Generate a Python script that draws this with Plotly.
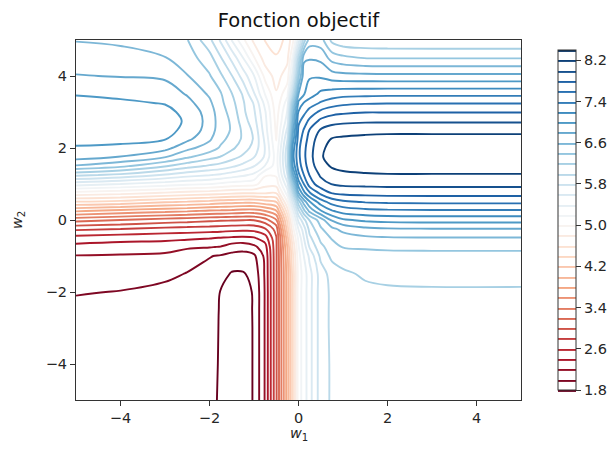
import plotly.graph_objects as go
from plotly.colors import diverging

# grid nodes (w1 columns, w2 rows)
w1_nodes = [-5, -4, -3, -2.5, -2, -1.75, -1.5, -1.25, -1, -0.75, -0.5, -0.25, -0.125,
            0, 0.125, 0.25, 0.5, 0.75, 1, 1.5, 2, 3, 5]
w2_nodes = [-5, -4, -3, -2.5, -2, -1.5, -1, -0.75, -0.5, -0.25, 0, 0.25, 0.5, 0.75, 1,
            1.25, 1.5, 1.75, 2, 2.25, 2.5, 2.75, 3, 3.25, 3.5, 4, 4.5, 5]

# objective values, one column per w1 node (bottom -> top)
col_m5 = [1.88, 1.9, 1.93, 1.96, 2.01, 2.1, 2.19, 2.33, 2.52, 2.84, 3.27, 3.82, 4.38, 4.93, 5.49,
          6.05, 6.58, 6.88, 6.98, 7.06, 7.1, 7.12, 7.1, 7.05, 6.99, 6.81, 6.7, 6.59]
col_m4 = [1.89, 1.91, 1.94, 1.96, 1.995, 2.06, 2.18, 2.3, 2.48, 2.8, 3.2, 3.73, 4.33, 4.87, 5.4,
          5.95, 6.45, 6.79, 6.96, 7.05, 7.09, 7.1, 7.08, 7.03, 6.96, 6.79, 6.68, 6.56]
col_m3 = [1.9, 1.91, 1.92, 1.93, 1.942, 2.046, 2.15, 2.3, 2.45, 2.74, 3.12, 3.66, 4.22, 4.78, 5.3,
          5.78, 6.22, 6.61, 6.87, 7.01, 7.05, 7.06, 7.05, 6.99, 6.93, 6.76, 6.61, 6.47]
col_m2_5 = [1.88, 1.89, 1.9, 1.91, 1.93, 1.99, 2.09, 2.23, 2.44, 2.72, 3.09, 3.62, 4.18, 4.73, 5.24,
            5.68, 6.08, 6.43, 6.65, 6.85, 6.96, 6.98, 6.95, 6.87, 6.78, 6.61, 6.5, 6.41]
col_m2 = [1.84, 1.86, 1.88, 1.9, 1.91, 1.93, 2.01, 2.21, 2.41, 2.7, 3.05, 3.57, 4.13, 4.69, 5.21,
          5.61, 5.97, 6.27, 6.51, 6.63, 6.7, 6.72, 6.7, 6.64, 6.57, 6.42, 6.28, 6.05]
col_m1_75 = [1.78, 1.78, 1.78, 1.78, 1.79, 1.88, 1.98, 2.19, 2.39, 2.69, 3.03, 3.56, 4.09, 4.67, 5.16,
             5.57, 5.92, 6.19, 6.37, 6.46, 6.5, 6.5, 6.48, 6.45, 6.42, 6.24, 6.02, 5.77]
col_m1_5 = [1.72, 1.72, 1.73, 1.74, 1.76, 1.78, 1.94, 2.1, 2.37, 2.67, 3.02, 3.54, 4.07, 4.64, 5.12,
            5.5, 5.84, 6.08, 6.24, 6.33, 6.38, 6.37, 6.33, 6.27, 6.21, 6.01, 5.75, 5.39]
col_m1_25 = [1.74, 1.74, 1.74, 1.75, 1.76, 1.78, 1.93, 2.07, 2.36, 2.66, 3.01, 3.51, 4.05, 4.62, 5.1,
             5.44, 5.74, 5.96, 6.1, 6.17, 6.16, 6.1, 6.05, 6.03, 5.98, 5.72, 5.41, 5.05]
col_m1 = [1.81, 1.81, 1.81, 1.81, 1.81, 1.86, 1.96, 2.15, 2.38, 2.67, 3.01, 3.51, 4.05, 4.62, 5.07,
          5.35, 5.61, 5.81, 5.93, 5.98, 5.95, 5.88, 5.83, 5.78, 5.62, 5.41, 5.02, 4.75]
col_m0_75 = [2.22, 2.22, 2.22, 2.22, 2.22, 2.23, 2.25, 2.32, 2.5, 2.78, 3.12, 3.6, 4.12, 4.62, 4.88,
             5.02, 5.39, 5.57, 5.59, 5.55, 5.49, 5.46, 5.42, 5.33, 5.19, 4.93, 4.7, 4.59]
col_m0_5 = [2.97, 2.97, 2.97, 2.97, 2.97, 2.97, 2.97, 2.97, 2.98, 3.08, 3.38, 3.78, 4.2, 4.61, 4.88,
            5.03, 5.1, 5.1, 5.05, 4.99, 4.96, 4.93, 4.9, 4.86, 4.82, 4.72, 4.62, 4.52]
col_m0_25 = [3.9, 3.9, 3.9, 3.9, 3.9, 3.9, 3.95, 4.01, 4.12, 4.3, 4.45, 4.7, 5.01, 5.3, 5.55,
             5.79, 5.9, 5.95, 5.9, 5.79, 5.65, 5.5, 5.42, 5.3, 5.15, 4.9, 4.75, 4.65]
col_m0_125 = [4.5, 4.5, 4.5, 4.5, 4.5, 4.5, 4.58, 4.65, 4.78, 4.95, 5.1, 5.35, 5.65, 6.01, 6.35,
              6.75, 7.05, 7.15, 7.1, 6.9, 6.75, 6.61, 6.5, 6.3, 5.95, 5.5, 5.25, 4.95]
col_0 = [5.1, 5.1, 5.1, 5.1, 5.1, 5.08, 5.12, 5.18, 5.25, 5.41, 5.65, 5.95, 6.3, 6.79, 7.1,
         7.35, 7.5, 7.55, 7.55, 7.5, 7.45, 7.35, 7.22, 7.05, 6.8, 6.35, 6.05, 5.5]
col_0_125 = [5.3, 5.3, 5.3, 5.3, 5.3, 5.3, 5.41, 5.5, 5.61, 5.72, 5.95, 6.35, 6.7, 7.15, 7.41,
             7.61, 7.72, 7.76, 7.75, 7.7, 7.62, 7.5, 7.35, 7.22, 6.99, 6.95, 6.75, 6.1]
col_0_25 = [5.53, 5.53, 5.53, 5.53, 5.53, 5.53, 5.65, 5.82, 5.95, 6.07, 6.21, 6.65, 6.98, 7.38, 7.7,
            7.81, 7.9, 7.93, 7.92, 7.88, 7.81, 7.65, 7.48, 7.3, 7.1, 6.98, 6.78, 6.5]
col_0_5 = [5.9, 5.9, 5.9, 5.9, 5.9, 5.9, 6.05, 6.15, 6.25, 6.37, 6.5, 6.98, 7.3, 7.65, 7.92,
           8.03, 8.13, 8.18, 8.16, 8.12, 8.02, 7.85, 7.65, 7.42, 7.25, 6.97, 6.75, 6.48]
col_0_75 = [6.03, 6.03, 6.04, 6.04, 6.04, 6.08, 6.25, 6.3, 6.42, 6.55, 6.83, 7.18, 7.48, 7.81, 8.01,
            8.12, 8.22, 8.27, 8.26, 8.21, 8.1, 7.92, 7.73, 7.5, 7.3, 6.9, 6.52, 6.15]
col_1 = [6.05, 6.06, 6.07, 6.08, 6.1, 6.16, 6.3, 6.41, 6.5, 6.66, 6.97, 7.28, 7.56, 7.85, 8.04,
         8.16, 8.25, 8.3, 8.29, 8.23, 8.12, 7.95, 7.76, 7.55, 7.33, 6.87, 6.45, 6.06]
col_1_5 = [6.07, 6.08, 6.1, 6.12, 6.15, 6.23, 6.34, 6.42, 6.56, 6.75, 7.04, 7.34, 7.61, 7.87, 8.05,
           8.18, 8.27, 8.31, 8.31, 8.25, 8.14, 7.97, 7.79, 7.58, 7.34, 6.86, 6.395, 6.04]
col_2 = [6.08, 6.09, 6.12, 6.14, 6.17, 6.25, 6.35, 6.43, 6.58, 6.78, 7.07, 7.36, 7.63, 7.88, 8.06,
         8.19, 8.27, 8.32, 8.32, 8.26, 8.15, 7.97, 7.79, 7.59, 7.35, 6.85, 6.39, 6.03]
col_3 = [6.08, 6.1, 6.13, 6.15, 6.18, 6.25, 6.36, 6.43, 6.59, 6.79, 7.08, 7.37, 7.64, 7.88, 8.06,
         8.19, 8.27, 8.32, 8.32, 8.26, 8.15, 7.97, 7.79, 7.59, 7.35, 6.85, 6.39, 6.02]
col_5 = [6.08, 6.1, 6.13, 6.15, 6.18, 6.25, 6.36, 6.43, 6.59, 6.79, 7.08, 7.37, 7.64, 7.88, 8.06,
         8.19, 8.27, 8.32, 8.32, 8.26, 8.15, 7.97, 7.79, 7.59, 7.35, 6.85, 6.39, 6.02]

columns = [col_m5, col_m4, col_m3, col_m2_5, col_m2, col_m1_75, col_m1_5, col_m1_25, col_m1,
           col_m0_75, col_m0_5, col_m0_25, col_m0_125, col_0, col_0_125, col_0_25, col_0_5,
           col_0_75, col_1, col_1_5, col_2, col_3, col_5]
z = [list(row) for row in zip(*columns)]  # rows follow w2_nodes

cbar_ticks = [1.8, 2.6, 3.4, 4.2, 5.0, 5.8, 6.6, 7.4, 8.2]
level_start, level_end, level_step = 1.8, 8.4, 0.2

rdbu = diverging.RdBu
cscale = [[i / (len(rdbu) - 1), c] for i, c in enumerate(rdbu)]

font = "DejaVu Sans, Liberation Sans, sans-serif"
tick_font = dict(family=font, size=14.5, color="#262626")

fig = go.Figure(go.Contour(
    x=w1_nodes, y=w2_nodes, z=z,
    colorscale=cscale, zmin=level_start, zmax=level_end,
    contours=dict(start=level_start, end=level_end, size=level_step, coloring="lines"),
    line=dict(width=1.9, smoothing=1.0),
    colorbar=dict(
        x=1.061, xanchor="left", xref="paper", y=0.5, yanchor="middle",
        len=1.0, lenmode="fraction", thickness=18,
        outlinecolor="#333", outlinewidth=1,
        tickvals=cbar_ticks, ticktext=[f"{v:.1f}" for v in cbar_ticks],
        ticks="outside", ticklen=5, tickcolor="#333",
        tickfont=tick_font,
    ),
))

axis_common = dict(
    range=[-5, 5], tickvals=[-4, -2, 0, 2, 4], ticks="outside", ticklen=5,
    tickcolor="#333", showline=True, linecolor="#333", linewidth=1, mirror=True,
    showgrid=False, zeroline=False, tickfont=tick_font,
)

plot_h = 450 - 40 - 50
plot_w = 607 - 76 - 86

fig.update_layout(
    width=607, height=450,
    margin=dict(l=76, r=86, t=40, b=50, autoexpand=False),
    paper_bgcolor="white", plot_bgcolor="white",
    title=dict(text="Fonction objectif", x=0.5, xanchor="center", xref="paper",
               y=1 - 13 / 450, yref="container", yanchor="top",
               font=dict(family=font, size=19.5, color="#111")),
    xaxis=dict(**axis_common),
    yaxis=dict(**axis_common),
    annotations=[
        dict(text="<i>w</i><sub>1</sub>", xref="paper", yref="paper",
             x=0.5, y=-34 / plot_h, xanchor="center", yanchor="middle", showarrow=False,
             font=dict(family=font, size=14.5, color="#262626")),
        dict(text="<i>w</i><sub>2</sub>", xref="paper", yref="paper",
             x=-58 / plot_w, y=0.5, xanchor="center", yanchor="middle", showarrow=False,
             textangle=-90, font=dict(family=font, size=14.5, color="#262626")),
    ],
)

fig.write_html("out.html", config={"displayModeBar": False},
               post_script="document.body.style.margin='0px';")
